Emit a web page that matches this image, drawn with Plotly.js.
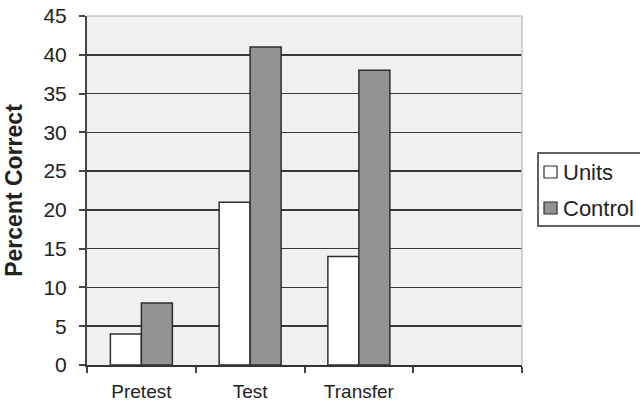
<!DOCTYPE html>
<html>
<head>
<meta charset="utf-8">
<script src="https://cdn.plot.ly/plotly-3.0.1.min.js"></script>
<style>html,body{margin:0;padding:0;background:#fff;}#chart{width:640px;height:403px;}</style>
</head>
<body>
<div id="chart"></div>
<script>
// Data
var categories = ['Pretest', 'Test', 'Transfer', ' '];
var unitsValues = [4, 21, 14, null];
var controlValues = [8, 41, 38, null];
var seriesNames = ['Units', 'Control'];
var seriesColors = ['#ffffff', '#939395'];
var yTickVals = [0, 5, 10, 15, 20, 25, 30, 35, 40, 45];

var W = 640, H = 403;
var L = 87, R = 118, T = 16, B = 38;
var pw = W - L - R, ph = H - T - B;
function px(x) { return (x - L) / pw; }
function py(y) { return (H - B - y) / ph; }

var lineCol = '#2e2e2e';
var font = 'Liberation Sans, Arial, sans-serif';

var traces = [
  {type: 'bar', name: seriesNames[0], x: categories, y: unitsValues,
   marker: {color: seriesColors[0], line: {color: lineCol, width: 1.5}}, showlegend: false, hoverinfo: 'x+y'},
  {type: 'bar', name: seriesNames[1], x: categories, y: controlValues,
   marker: {color: seriesColors[1], line: {color: lineCol, width: 1.5}}, showlegend: false, hoverinfo: 'x+y'}
];

var shapes = [
  {type: 'line', xref: 'paper', yref: 'paper', x0: 0, x1: 1, y0: 1, y1: 1, line: {color: '#c4c4c6', width: 1.5}, layer: 'above'},
  {type: 'line', xref: 'paper', yref: 'paper', x0: 1, x1: 1, y0: 0, y1: 1, line: {color: '#c4c4c6', width: 1.5}, layer: 'above'},
  {type: 'rect', xref: 'paper', yref: 'paper', x0: px(538), x1: px(680), y0: py(226), y1: py(153),
   line: {color: lineCol, width: 1.5}, fillcolor: '#ffffff', layer: 'above'}
];
var annotations = [];
var legendY = [172, 208];
for (var i = 0; i < seriesNames.length; i++) {
  shapes.push({type: 'rect', xref: 'paper', yref: 'paper', x0: px(544), x1: px(557),
    y0: py(legendY[i] + 6), y1: py(legendY[i] - 6),
    line: {color: lineCol, width: 1.2}, fillcolor: seriesColors[i], layer: 'above'});
  annotations.push({xref: 'paper', yref: 'paper', x: px(561), y: py(legendY[i]),
    xanchor: 'left', yanchor: 'middle', showarrow: false, text: seriesNames[i],
    font: {family: font, size: 22, color: '#222'}});
}

var layout = {
  width: W, height: H,
  margin: {l: L, r: R, t: T, b: B, pad: 0},
  paper_bgcolor: '#ffffff',
  plot_bgcolor: '#eff0f2',
  barmode: 'group',
  bargap: 0.43,
  bargroupgap: 0,
  showlegend: false,
  xaxis: {
    type: 'category',
    categoryorder: 'array', categoryarray: categories,
    range: [-0.5, 3.5],
    tickson: 'boundaries',
    ticks: 'outside', ticklen: 6, tickwidth: 2, tickcolor: '#444',
    showline: true, linecolor: '#333', linewidth: 2,
    showgrid: false, zeroline: false,
    ticklabelstandoff: 8,
    tickfont: {family: font, size: 19, color: '#222'},
    fixedrange: true
  },
  yaxis: {
    range: [0, 45],
    tickvals: yTickVals,
    ticks: 'outside', ticklen: 6, tickwidth: 2, tickcolor: '#444',
    showline: true, linecolor: '#444', linewidth: 2,
    showgrid: true, gridcolor: '#383838', gridwidth: 1.6,
    zeroline: false,
    ticklabelstandoff: 8,
    tickfont: {family: font, size: 21, color: '#222'},
    title: {text: '<b>Percent Correct</b>', standoff: 14, font: {family: font, size: 23, color: '#222'}},
    fixedrange: true
  },
  shapes: shapes,
  annotations: annotations
};

Plotly.newPlot('chart', traces, layout, {displayModeBar: false, staticPlot: true});
</script>
</body>
</html>
